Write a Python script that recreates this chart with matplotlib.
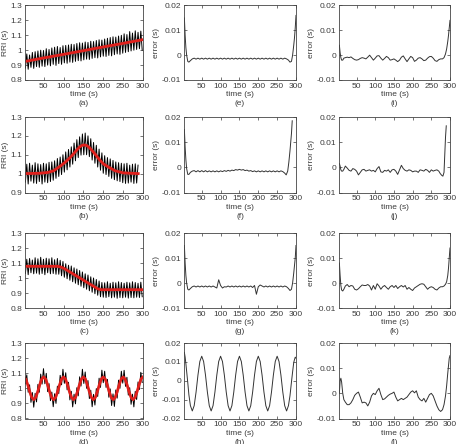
import numpy as np
import matplotlib
matplotlib.use('Agg')
import matplotlib.pyplot as plt

plt.rcParams['font.family'] = ['Liberation Sans', 'DejaVu Sans']

# ---- time grids (s) ----
t_rri = np.arange(4, 299, 3.5)        # 85 samples, panels a, c, d
t_rri_b = np.arange(4, 288, 3.5)      # 82 samples, panel b
t_err = np.concatenate([[4, 6, 8, 10, 13, 16, 20], np.arange(25, 276, 5),
                        [280, 284, 288, 291, 294, 296, 298, 300]])
t_err_b = np.concatenate([[4, 6, 8, 10, 13, 16, 20], np.arange(25, 266, 5),
                          [270, 274, 278, 281, 284, 286, 288, 290]])

# ---- RRI series (ms) ----
rri_a = [880, 975, 872, 968, 885, 985, 878, 990, 890, 995,
         885, 1000, 893, 998, 890, 1010, 900, 1005, 895, 1015,
         905, 1020, 898, 1025, 910, 1018, 905, 1030, 915, 1032,
         912, 1035, 920, 1040, 918, 1038, 925, 1045, 930, 1050,
         928, 1048, 935, 1055, 940, 1052, 938, 1060, 945, 1058,
         950, 1065, 948, 1070, 955, 1068, 960, 1075, 958, 1080,
         965, 1085, 962, 1090, 970, 1088, 975, 1095, 972, 1100,
         980, 1110, 985, 1105, 990, 1125, 995, 1115, 1000, 1130,
         1005, 1120, 1010, 1128, 1000]
trend_a_t = [0, 50, 100, 150, 200, 250, 300]
trend_a = [923, 948, 972, 997, 1022, 1046, 1071]

rri_b = [955, 1050, 945, 1055, 960, 1045, 950, 1058, 948, 1052,
         958, 1048, 945, 1055, 955, 1052, 952, 1060, 958, 1062,
         965, 1068, 975, 1080, 985, 1088, 995, 1100, 1008, 1115,
         1020, 1128, 1035, 1142, 1050, 1162, 1068, 1180, 1085, 1195,
         1098, 1210, 1100, 1215, 1100, 1200, 1090, 1185, 1072, 1165,
         1055, 1150, 1035, 1130, 1018, 1110, 1002, 1095, 995, 1085,
         985, 1078, 975, 1070, 968, 1062, 962, 1058, 958, 1055,
         952, 1052, 948, 1055, 950, 1045, 955, 1050, 948, 1052, 950, 1045]
trend_b_t = [0, 40, 60, 75, 92, 105, 115, 124, 132, 140, 146, 152, 158,
             164, 172, 180, 190, 200, 212, 230, 250, 288]
trend_b = [1000, 1002, 1006, 1015, 1040, 1062, 1082, 1102, 1122, 1140, 1149,
           1152, 1149, 1140, 1122, 1102, 1075, 1052, 1036, 1015, 1004, 1000]

rri_c = [1030, 1125, 1022, 1130, 1035, 1120, 1028, 1135, 1032, 1128,
         1025, 1138, 1030, 1125, 1022, 1132, 1035, 1128, 1028, 1135,
         1030, 1122, 1025, 1130, 1025, 1118, 1015, 1110, 1005, 1095,
         995, 1085, 985, 1080, 975, 1068, 965, 1060, 955, 1050,
         945, 1040, 935, 1028, 925, 1020, 915, 1008, 905, 1000,
         895, 990, 885, 980, 875, 970, 872, 968, 870, 975,
         875, 965, 868, 972, 872, 968, 865, 975, 870, 970,
         868, 965, 872, 972, 866, 968, 870, 975, 868, 970,
         872, 965, 870, 972, 875]
trend_c_t = [0, 85, 92, 100, 186, 194, 300]
trend_c = [1078, 1078, 1074, 1066, 928, 922, 922]

rri_d = [1030, 1089, 974, 1023, 907, 972, 875, 967, 910, 1026,
         974, 1094, 1028, 1130, 1030, 1099, 978, 1031, 918, 975,
         878, 964, 900, 1014, 965, 1086, 1023, 1126, 1033, 1103,
         990, 1040, 923, 980, 877, 961, 897, 1004, 950, 1076,
         1015, 1126, 1032, 1108, 1000, 1051, 932, 987, 878, 960,
         889, 998, 946, 1067, 1006, 1120, 1037, 1113, 1006, 1059,
         941, 996, 886, 963, 880, 989, 935, 1054, 1000, 1113,
         1034, 1119, 1013, 1073, 955, 1004, 894, 961, 877, 980,
         926, 1042, 992, 1106, 1038]
trend_d_t = np.arange(0, 301, 5)
trend_d = [1075,
           1061, 1023, 977, 939, 925, 939, 977, 1023, 1061, 1075,
           1061, 1023, 977, 939, 925, 939, 977, 1023, 1061, 1075,
           1061, 1023, 977, 939, 925, 939, 977, 1023, 1061, 1075,
           1061, 1023, 977, 939, 925, 939, 977, 1023, 1061, 1075,
           1061, 1023, 977, 939, 925, 939, 977, 1023, 1061, 1075,
           1061, 1023, 977, 939, 925, 939, 977, 1023, 1061, 1075]

# ---- error series (ms) ----
err_e = [15, 8, 3, 0, -2.5, -2.8, -2.2,
         -1.5, -1.2, -1.6, -1.2, -1.6, -1.2, -1.6, -1.2, -1.6, -1.2,
         -1.6, -1.2, -1.6, -1.2, -1.6, -1.2, -1.6, -1.2, -1.6, -1.2,
         -1.6, -1.2, -1.6, -1.2, -1.6, -1.2, -1.6, -1.2, -1.6, -1.2,
         -1.6, -1.2, -1.6, -1.2, -1.6, -1.2, -1.6, -1.2, -1.6, -1.2,
         -1.6, -1.2, -1.6, -1.2, -1.6, -1.2, -1.6, -1.2, -1.6, -1.2,
         -1.5,
         -2.0, -2.8, -2.5, 0, 4, 7, 11, 16]

err_f = [15, 8, 3, -0.5, -2.8, -2.8, -2.0,
         -1.5, -1.3, -1.8, -1.3, -1.8, -1.3, -1.8, -1.3, -1.8, -1.4,
         -1.8, -1.4, -1.8, -1.4, -1.8, -1.4, -1.7, -1.3, -1.6, -1.2,
         -1.5, -1.1, -1.3, -0.9, -1.1, -0.8, -1.1, -0.9, -1.3, -1.1,
         -1.5, -1.3, -1.7, -1.4, -1.8, -1.4, -1.8, -1.4, -1.8, -1.4,
         -1.8, -1.4, -1.8, -1.4, -1.8, -1.4, -1.8, -1.4, -1.7,
         -2.3, -3.0, -1.5, 2.0, 6.5, 10, 13.5, 18.5]

err_g = [15, 8, 3, 0, -2.5, -2.8, -2.2,
         -1.5, -1.2, -1.6, -1.2, -1.6, -1.2, -1.6, -1.2, -1.6, -1.2,
         -1.6, -1.2, -1.6, -2.0, 1.3, -1.0, -2.0, -1.5, -1.6, -1.2,
         -1.6, -1.2, -1.6, -1.2, -1.6, -1.2, -1.6, -1.2, -1.6, -1.2,
         -1.6, -1.2, -1.8, -1.0, -4.5, -1.5, -0.8, -1.2, -1.6, -1.2,
         -1.6, -1.2, -1.6, -1.2, -1.6, -1.2, -1.6, -1.2, -1.6, -1.2,
         -1.5,
         -2.2, -3.0, -2.5, 0, 4, 7, 10, 15]

err_h = [15, 12.5, 9, 5, -1, -7.5, -13.2,
         -16, -13.2, -6, 3, 10.2, 13, 10.2, 3, -6, -13.2,
         -16, -13.2, -6, 3, 10.2, 13, 10.2, 3, -6, -13.2,
         -16, -13.2, -6, 3, 10.2, 13, 10.2, 3, -6, -13.2,
         -16, -13.2, -6, 3, 10.2, 13, 10.2, 3, -6, -13.2,
         -16, -13.2, -6, 3, 10.2, 13, 10.2, 3, -6, -13.2,
         -16,
         -13.2, -8, -0.6, 4.7, 9.7, 11.2, 12.5, 12]

err_i = [4, 1, -1, -2, -2, -1.2, -1,
         -0.8, -1.0, -0.7, -1.3, -1.8, -2.0, -1.8, -1.3, -1.0, -1.2,
         -1.5, -0.8, 0.0, -1.0, -2.0, -1.2, -0.3, -0.2, -1.2, -2.0,
         -1.3, -0.5, -1.0, -2.0, -1.8, -1.5, -2.0, -2.6, -2.0, -0.8,
         -0.3, -1.5, -2.6, -1.5, -0.5, -1.0, -2.5, -2.0, -1.2, -1.0,
         -1.5, -2.2, -2.0, -1.2, -0.6, -0.5, -1.2, -2.2, -2.5, -1.8,
         -1.5,
         -1.5, -1.0, 0.5, 2.5, 5.5, 8, 11, 14]

err_j = [1.5, 0.5, -1, -1.5, -1.5, -0.8, 0.5,
         -0.3, -1.2, -1.5, -0.5, -0.8, -1.5, -3.0, -2.0, -1.0, -0.8,
         -1.5, -1.2, -1.0, -1.5, -1.2, -1.8, -0.5, 0.3, -1.8, -2.0,
         -1.2, -1.5, -1.0, -2.0, -1.0, -0.8, -1.5, -2.8, -1.0, 0.8,
         -0.5, -1.2, -1.5, -1.0, -1.2, -1.8, -1.5, -1.5, -2.0, -1.0,
         -1.2, -1.5, -0.8, -1.2, -2.0, -1.0, -1.5, -1.2, -1.0,
         -1.5, -2.5, -3.2, -3.5, -2.0, 5, 12, 16.5]

err_k = [8, 3, -1, -2.8, -3.2, -2.5, -1.2,
         -0.6, -1.5, -1.0, -1.2, -2.5, -2.8, -2.3, -1.5, -0.8, -1.0,
         -1.0, -0.6, -1.2, -2.8, -1.0, -2.5, -0.3, -1.2, -2.5, -1.5,
         -1.0, -1.8, -2.5, -1.5, -1.0, -1.8, -1.0, -2.2, -1.5, -1.0,
         -1.6, -1.0, -2.5, -1.8, -2.5, -3.0, -2.0, -1.5, -1.0, -0.5,
         -0.3, -0.5, -1.5, -2.5, -1.8, -1.5, -1.8, -2.5, -2.8, -2.0,
         -1.5,
         -1.5, -1.2, -0.5, 0.5, 3, 6, 10, 14]

err_l = [0, 5, 6, 4.5, 0, -2.5, -3.5,
         -4.5, -4.5, -3.8, -2.5, -0.8, 0.0, 0.5, -1.5, -3.8, -3.5,
         -3.8, -5.0, -3.5, -1.0, 0.0, -0.5, 1.0, 2.0, -0.5, -2.5,
         -2.2, -1.5, -0.8, -0.3, 0.0, 0.5, -1.5, -3.0, -2.5, -2.0,
         -2.5, -2.0, -1.5, -0.5, 0.5, 1.0, 0.2, 1.0, -1.5, -2.5,
         -3.0, -2.0, -3.5, -2.0, -0.5, 0.0, -1.0, -3.0, -5.0, -6.5,
         -7.2,
         -6.5, -4.5, -1, 3, 8, 11, 14, 15]

# ---- axis ticks ----
xticks = [50, 100, 150, 200, 250, 300]
yt_rri = [0.8, 0.9, 1.0, 1.1, 1.2, 1.3]
yl_rri = ['0.8', '0.9', '1', '1.1', '1.2', '1.3']
yt_rri_b = [0.9, 1.0, 1.1, 1.2, 1.3]
yl_rri_b = ['0.9', '1', '1.1', '1.2', '1.3']
yt_err = [-0.01, 0, 0.01, 0.02]
yl_err = ['-0.01', '0', '0.01', '0.02']
yt_err_h = [-0.02, -0.01, 0, 0.01, 0.02]
yl_err_h = ['-0.02', '-0.01', '0', '0.01', '0.02']

TXT = '#3c3c3c'
W, H = 458, 444
cols = [(25, 118), (184, 112), (339, 111)]
rows = [(5.5, 74.5), (117, 75.5), (233, 75), (343, 75.5)]

fig = plt.figure(figsize=(4.58, 4.44), dpi=100)


def make_ax(r, c, yt, yl, ylabel, letter):
    x0, w = cols[c]
    y0, h = rows[r]
    ax = fig.add_axes([x0 / W, 1 - (y0 + h) / H, w / W, h / H])
    ax.set_xlim(3, 300)
    ax.set_ylim(yt[0], yt[-1])
    ax.set_xticks(xticks)
    ax.set_xticklabels([str(v) for v in xticks])
    ax.set_yticks(yt)
    ax.set_yticklabels(yl)
    ax.tick_params(direction='in', top=True, right=True, length=2, width=0.5,
                   labelsize=6, colors=TXT, pad=2)
    for s in ax.spines.values():
        s.set_linewidth(0.6)
        s.set_color('#444444')
    ax.set_xlabel('time (s)', fontsize=6, color=TXT, labelpad=1)
    ax.set_ylabel(ylabel, fontsize=6, color=TXT, labelpad=1)
    ax.text(0.5, -0.315, '(%s)' % letter, transform=ax.transAxes,
            ha='center', va='center', fontsize=6, color=TXT)
    return ax


rri_panels = [
    (t_rri, rri_a, trend_a_t, trend_a, yt_rri, yl_rri, 'a'),
    (t_rri_b, rri_b, trend_b_t, trend_b, yt_rri_b, yl_rri_b, 'b'),
    (t_rri, rri_c, trend_c_t, trend_c, yt_rri, yl_rri, 'c'),
    (t_rri, rri_d, trend_d_t, trend_d, yt_rri, yl_rri, 'd'),
]
for r, (t, y, tt, ty, yt, yl, letter) in enumerate(rri_panels):
    ax = make_ax(r, 0, yt, yl, 'RRI (s)', letter)
    ax.plot(t, np.array(y) / 1000, color='black', lw=0.7)
    ax.plot(tt, np.array(ty) / 1000, color='#e0201c', lw=2.0)

err_panels = [
    (0, 1, t_err, err_e, yt_err, yl_err, 'e'),
    (1, 1, t_err_b, err_f, yt_err, yl_err, 'f'),
    (2, 1, t_err, err_g, yt_err, yl_err, 'g'),
    (3, 1, t_err, err_h, yt_err_h, yl_err_h, 'h'),
    (0, 2, t_err, err_i, yt_err, yl_err, 'i'),
    (1, 2, t_err_b, err_j, yt_err, yl_err, 'j'),
    (2, 2, t_err, err_k, yt_err, yl_err, 'k'),
    (3, 2, t_err, err_l, yt_err, yl_err, 'l'),
]
for r, c, t, y, yt, yl, letter in err_panels:
    ax = make_ax(r, c, yt, yl, 'error (s)', letter)
    ax.plot(t, np.array(y) / 1000, color='#333333', lw=0.7)

fig.savefig('out.png', dpi=100)
